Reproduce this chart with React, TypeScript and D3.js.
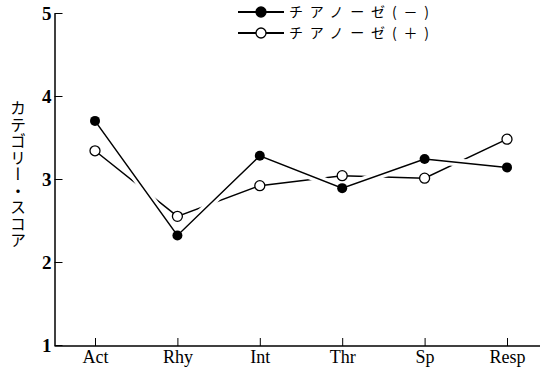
import React, { useEffect, useRef } from 'react';
import * as d3 from 'd3';

// categories on x axis
const categories = ['Act', 'Rhy', 'Int', 'Thr', 'Sp', 'Resp'];
// category scores, cyanosis (-) / (+)
const cyanosisMinus = [3.7, 2.32, 3.28, 2.89, 3.24, 3.14];
const cyanosisPlus = [3.34, 2.55, 2.92, 3.04, 3.01, 3.48];
const yTicks = [1, 2, 3, 4, 5];
const legendLabels = ['チアノーゼ(－)', 'チアノーゼ(＋)'];
const yLabel = 'カテゴリー・スコア';

const App: React.FC = () => {
  const svgRef = useRef<SVGSVGElement>(null);

  useEffect(() => {
    if (!svgRef.current) return;
    const svg = d3.select(svgRef.current);
    svg.selectAll('*').remove();

    const axisX = 54.5;
    const axisY = 346;

    const x = d3.scalePoint<string>().domain(categories).range([95, 507]);
    const y = d3.scaleLinear().domain([1, 5]).range([345, 13]);

    const serif = '"Liberation Serif", "DejaVu Serif", serif';
    const jp = '"Noto Sans CJK JP", sans-serif';

    // y axis
    const yAxis = svg.append('g')
      .attr('transform', `translate(${axisX},0)`)
      .call(d3.axisLeft(y).tickValues(yTicks).tickFormat(d3.format('d')).tickSizeInner(-8).tickSizeOuter(0).tickPadding(3));
    yAxis.select('.domain').attr('stroke', '#000').attr('stroke-width', 1.5);
    yAxis.selectAll('.tick line').attr('stroke', '#000');
    yAxis.selectAll('.tick text')
      .style('font-family', serif)
      .style('font-size', '19px')
      .style('font-weight', 'bold')
      .attr('fill', '#000');

    // x axis
    const xAxis = svg.append('g')
      .attr('transform', `translate(0,${axisY})`)
      .call(d3.axisBottom(x).tickSizeInner(-8).tickSizeOuter(0).tickPadding(4));
    xAxis.select('.domain').remove();
    xAxis.selectAll('.tick line').attr('stroke', '#000');
    xAxis.selectAll('.tick text')
      .style('font-family', serif)
      .style('font-size', '18px')
      .style('font-weight', 'normal')
      .attr('fill', '#000');
    svg.append('line')
      .attr('x1', axisX).attr('x2', 540)
      .attr('y1', axisY).attr('y2', axisY)
      .attr('stroke', '#000').attr('stroke-width', 1.5);

    // y label, vertical
    svg.append('text')
      .attr('x', 18)
      .attr('y', 100)
      .style('writing-mode', 'vertical-rl')
      .style('font-family', jp)
      .style('font-size', '16px')
      .attr('text-anchor', 'start')
      .attr('textLength', 148)
      .attr('lengthAdjust', 'spacing')
      .attr('fill', '#000')
      .text(yLabel);

    const line = d3.line<number>()
      .x((_, i) => x(categories[i])!)
      .y(d => y(d));

    // open series first, filled series over it with a white halo
    svg.append('path')
      .attr('d', line(cyanosisPlus)!)
      .attr('fill', 'none').attr('stroke', '#000').attr('stroke-width', 1.5);
    svg.append('path')
      .attr('d', line(cyanosisMinus)!)
      .attr('fill', 'none').attr('stroke', '#fff').attr('stroke-width', 8);
    svg.append('path')
      .attr('d', line(cyanosisMinus)!)
      .attr('fill', 'none').attr('stroke', '#000').attr('stroke-width', 1.5);

    svg.selectAll('.pt-plus')
      .data(cyanosisPlus)
      .enter()
      .append('circle')
      .attr('cx', (_, i) => x(categories[i])!)
      .attr('cy', d => y(d))
      .attr('r', 5)
      .attr('fill', '#fff').attr('stroke', '#000').attr('stroke-width', 1.3);

    svg.selectAll('.pt-minus')
      .data(cyanosisMinus)
      .enter()
      .append('circle')
      .attr('cx', (_, i) => x(categories[i])!)
      .attr('cy', d => y(d))
      .attr('r', 5)
      .attr('fill', '#000');

    // legend
    legendLabels.forEach((label, i) => {
      const ly = 12 + i * 21;
      const g = svg.append('g');
      g.append('line')
        .attr('x1', 238).attr('x2', 284)
        .attr('y1', ly).attr('y2', ly)
        .attr('stroke', '#000').attr('stroke-width', 1.8);
      g.append('circle')
        .attr('cx', 261).attr('cy', ly).attr('r', 5)
        .attr('fill', i === 0 ? '#000' : '#fff')
        .attr('stroke', '#000').attr('stroke-width', 1.3);
      g.append('text')
        .attr('x', 289)
        .attr('y', ly)
        .attr('dy', '0.35em')
        .attr('textLength', 140)
        .attr('lengthAdjust', 'spacing')
        .style('font-family', jp)
        .style('font-size', '14px')
        .attr('fill', '#000')
        .text(label);
    });
  }, []);

  return (
    <svg
      ref={svgRef}
      width={544}
      height={374}
      style={{ position: 'absolute', left: 0, top: 0, background: '#fff' }}
    />
  );
};

export default App;
